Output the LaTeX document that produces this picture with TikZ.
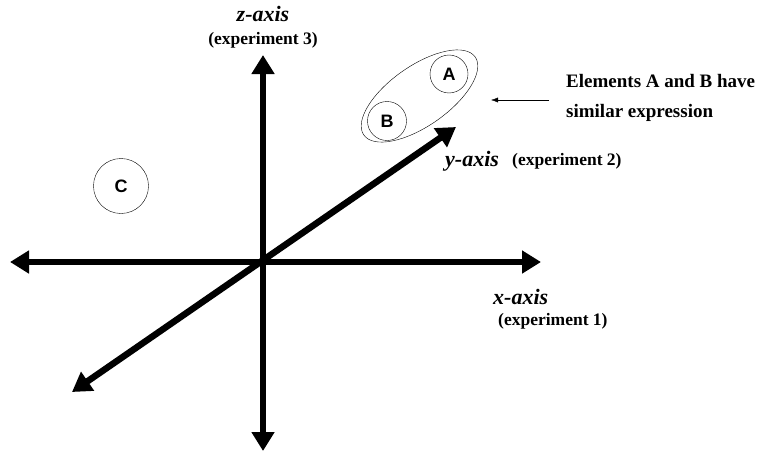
\documentclass[tikz,border=0pt]{standalone}
\usepackage{fontspec}
\setmainfont{Liberation Serif}
\newfontfamily\letterfont{Liberation Sans}
\usetikzlibrary{positioning, arrows.meta, shapes.geometric}

\begin{document}
\begin{tikzpicture}[
    x=1pt, y=-1pt,
    axis/.style={line width=6.5pt, {Triangle[length=19pt, width=22pt]}-{Triangle[length=19pt, width=22pt]}},
    element/.style={
        draw, circle, thin,
        minimum size=38pt, inner sep=0pt,
        font=\letterfont\bfseries\fontsize{18}{18}\selectfont
    },
    axisname/.style={font=\bfseries\itshape\fontsize{22}{22}\selectfont},
    experiment/.style={font=\bfseries\fontsize{17.5}{17.5}\selectfont},
    note/.style={font=\bfseries\fontsize{19}{30}\selectfont, align=left},
    pointer/.style={-{Latex[length=7pt, width=5pt]}, thin}
]
\useasboundingbox (0,0) rectangle (773,452);

% ===== AXES =====
\coordinate (origin) at (263,262);
\coordinate (xleft) at (10,262);
\coordinate (xright) at (541,262);
\coordinate (ztop) at (263,55);
\coordinate (zbottom) at (263,451);
\coordinate (yfar) at (456,127);
\coordinate (ynear) at (72,392);

\draw[axis] (xleft) -- (xright);
\draw[axis] (zbottom) -- (ztop);
\draw[axis] (ynear) -- (yfar);

% ===== AXIS LABELS =====
\node[axisname] (zname) at (263,14) {z-axis};
\node[experiment] (zexp) at (263,40) {(experiment 3)};

\node[axisname, anchor=west, inner sep=0pt] (yname) at (445,161) {y-axis};
\node[experiment, anchor=west, inner sep=0pt] (yexp) at (512,161) {(experiment 2)};

\node[axisname, anchor=west, inner sep=0pt] (xname) at (493,297) {x-axis};
\node[experiment, anchor=west, inner sep=0pt] (xexp) at (498,321) {(experiment 1)};

% ===== ELEMENTS =====
\node[element, minimum size=55pt] (C) at (121,186) {C};
\node[element] (A) at (449,74) {A};
\node[element, minimum size=39pt] (B) at (387,121) {B};
\node[draw, thin, ellipse, inner sep=0pt, minimum width=136pt, minimum height=60pt,
      rotate=35] (group) at (419.5,96) {};

% ===== NOTE =====
\node[note, anchor=west, inner sep=0pt] (note) at (566,98) {Elements A and B have\\similar expression};
\coordinate (tail) at (549,100);
\coordinate (head) at (491,100);
\draw[pointer] (tail) -- (head);

\end{tikzpicture}
\end{document}
